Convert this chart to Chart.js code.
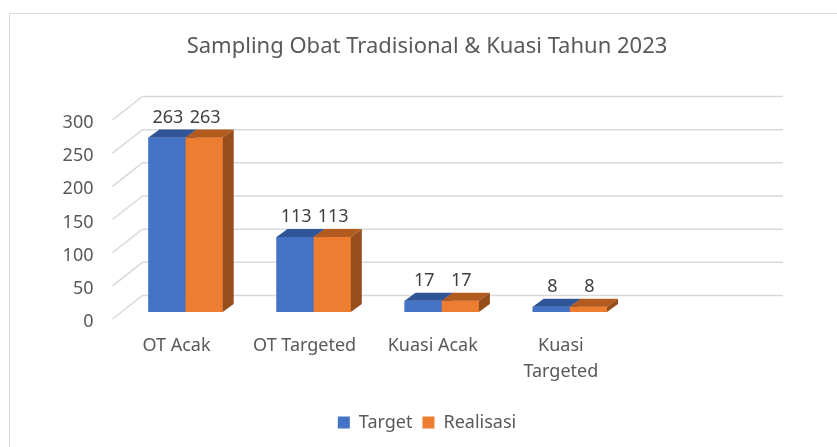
<!DOCTYPE html>
<html>
<head>
<meta charset="utf-8">
<script src="https://cdn.jsdelivr.net/npm/chart.js@4"></script>
<style>
  body { margin: 0; background: #fff; }
  #wrap { position: relative; width: 837px; height: 447px; overflow: hidden; }
  #frame { position: absolute; left: 9px; top: 13px; width: 900px; height: 500px; border: 1.5px solid #d9d9d9; box-sizing: border-box; }
  #chart { position: absolute; left: 0; top: 0; }
</style>
</head>
<body>
<div id="wrap">
  <div id="frame"></div>
  <canvas id="chart" width="837" height="447"></canvas>
</div>
<script>
// data
var categories = ['OT Acak', 'OT Targeted', 'Kuasi Acak', ['Kuasi', 'Targeted'], ''];
var targetValues = [263, 113, 17, 8, null];
var realisasiValues = [263, 113, 17, 8, null];
var yTicks = [0, 50, 100, 150, 200, 250, 300];

// 3d look
var BACK_DX = 30, BACK_DY = -23.5;   // depth of the walls
var BAR_DX = 9, BAR_DY = -7;         // bars sit a bit into the floor
var FACE_DX = 11, FACE_DY = -8;      // bar depth
var textColor = '#595959';
var font = "'Noto Sans', sans-serif";

var faces = {
  '#4472C4': { top: '#2F5597', side: '#30548F' },
  '#ED7D31': { top: '#B35A1F', side: '#974D1C' }
};

//walls gridlines
var wallPlugin = {
  id: 'walls',
  beforeDatasetsDraw: function (chart) {
    var ctx = chart.ctx;
    var area = chart.chartArea;
    var y = chart.scales.y;
    ctx.save();
    ctx.strokeStyle = '#d9d9d9';
    ctx.lineWidth = 1.5;
    yTicks.forEach(function (v) {
      var py = y.getPixelForValue(v);
      ctx.beginPath();
      ctx.moveTo(area.left, py);
      ctx.lineTo(area.left + BACK_DX, py + BACK_DY);
      ctx.lineTo(area.right + BACK_DX, py + BACK_DY);
      ctx.stroke();
    });
    ctx.restore();
    // shift the bars into the floor
    ctx.save();
    ctx.translate(BAR_DX, BAR_DY);
  },
  afterDatasetsDraw: function (chart) {
    var ctx = chart.ctx;
    chart.data.datasets.forEach(function (ds, i) {
      var meta = chart.getDatasetMeta(i);
      var f = faces[ds.backgroundColor];
      meta.data.forEach(function (bar, j) {
        if (ds.data[j] == null) return;
        var l = bar.x - bar.width / 2, r = bar.x + bar.width / 2;
        var t = bar.y, b = bar.base;
        // front again so it covers the neighbour's side
        ctx.fillStyle = ds.backgroundColor;
        ctx.fillRect(l, t, r - l, b - t);
        // top
        ctx.fillStyle = f.top;
        ctx.beginPath();
        ctx.moveTo(l, t);
        ctx.lineTo(r, t);
        ctx.lineTo(r + FACE_DX, t + FACE_DY);
        ctx.lineTo(l + FACE_DX, t + FACE_DY);
        ctx.closePath();
        ctx.fill();
        // side
        ctx.fillStyle = f.side;
        ctx.beginPath();
        ctx.moveTo(r, t);
        ctx.lineTo(r + FACE_DX, t + FACE_DY);
        ctx.lineTo(r + FACE_DX, b + FACE_DY);
        ctx.lineTo(r, b);
        ctx.closePath();
        ctx.fill();
      });
    });
    // value labels
    ctx.fillStyle = '#404040';
    ctx.font = '18px ' + font;
    ctx.textAlign = 'center';
    ctx.textBaseline = 'middle';
    chart.data.datasets.forEach(function (ds, i) {
      chart.getDatasetMeta(i).data.forEach(function (bar, j) {
        if (ds.data[j] == null) return;
        ctx.fillText(ds.data[j], bar.x + 1, bar.y - 20);
      });
    });
    ctx.restore();
  }
};

var ctx = document.getElementById('chart').getContext('2d');
var chart = new Chart(ctx, {
  type: 'bar',
  data: {
    labels: categories,
    datasets: [{
      label: 'Target',
      backgroundColor: '#4472C4',
      borderWidth: 0,
      data: targetValues
    }, {
      label: 'Realisasi',
      backgroundColor: '#ED7D31',
      borderWidth: 0,
      data: realisasiValues
    }]
  },
  options: {
    responsive: false,
    animation: false,
    devicePixelRatio: 1,
    layout: { padding: { top: 0, right: 0, bottom: 5.5, left: 17 } },
    categoryPercentage: 0.58,
    barPercentage: 1,
    plugins: {
      title: {
        display: true,
        text: 'Sampling Obat Tradisional & Kuasi Tahun 2023',
        color: textColor,
        font: { family: font, size: 22, weight: 'normal' },
        padding: { top: 34, bottom: 59.6 }
      },
      legend: {
        position: 'bottom',
        labels: {
          color: textColor,
          font: { family: font, size: 18 },
          boxWidth: 12,
          boxHeight: 12,
          padding: 10
        }
      },
      tooltip: { enabled: false }
    },
    scales: {
      x: {
        grid: { display: false, drawTicks: false },
        border: { display: false },
        ticks: {
          color: textColor,
          font: { family: font, size: 18, lineHeight: 1.45 },
          padding: 14,
          maxRotation: 0,
          autoSkip: false
        },
        afterFit: function (scale) { scale.height = 84.5; }
      },
      y: {
        min: 0,
        max: 300,
        grid: { display: false, drawTicks: false },
        border: { display: false },
        ticks: {
          stepSize: 50,
          color: textColor,
          font: { family: font, size: 18 },
          padding: 19,
          labelOffset: 3
        },
        afterFit: function (scale) { scale.width = 95.5; }
      },
      // empty space right of the plot (room the back wall needs)
      yRight: {
        type: 'linear',
        position: 'right',
        grid: { display: false, drawTicks: false },
        border: { display: false },
        ticks: { display: false },
        afterFit: function (scale) { scale.width = 84; }
      }
    }
  },
  plugins: [wallPlugin]
});
</script>
</body>
</html>
